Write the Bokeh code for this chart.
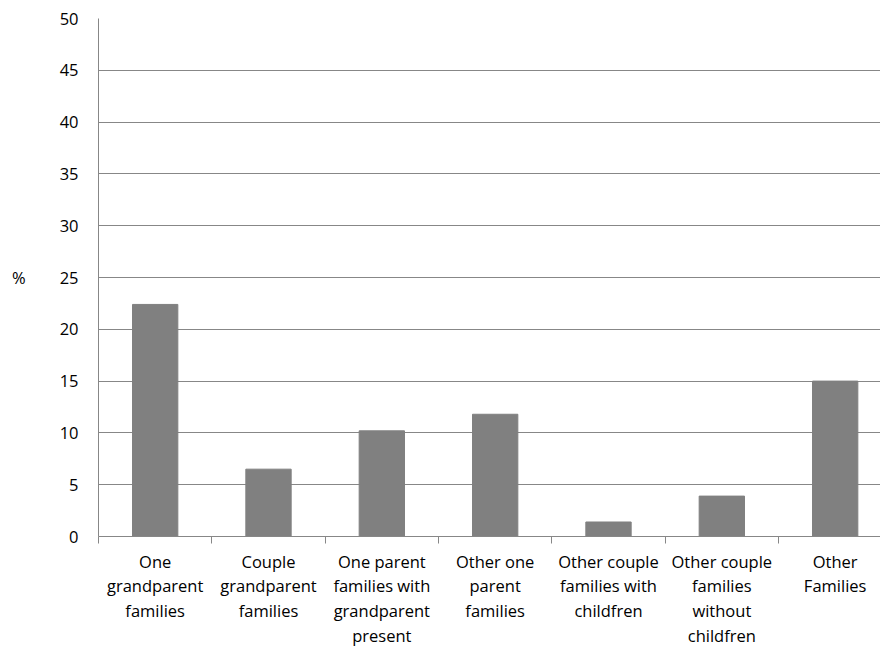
from bokeh.plotting import figure
from bokeh.models import Range1d, FixedTicker
from bokeh.embed import file_html
from bokeh.resources import INLINE

categories = [
    "One\ngrandparent\nfamilies",
    "Couple\ngrandparent\nfamilies",
    "One parent\nfamilies with\ngrandparent\npresent",
    "Other one\nparent\nfamilies",
    "Other couple\nfamilies with\nchildfren",
    "Other couple\nfamilies\nwithout\nchildfren",
    "Other\nFamilies",
]
values = [22.4, 6.5, 10.2, 11.8, 1.4, 3.9, 15.0]
y_ticks = [0, 5, 10, 15, 20, 25, 30, 35, 40, 45, 50]

FONT = "Open Sans"
FS = "16.5px"
GRAY = "#878787"

xs = [i + 0.5 for i in range(len(categories))]

p = figure(width=880, height=650, output_backend="svg", toolbar_location=None,
           x_range=Range1d(0, 6.9), y_range=Range1d(0, 50))
p.min_border_left = 98
p.min_border_right = 0
p.min_border_top = 18
p.min_border_bottom = 113
p.outline_line_color = None
p.background_fill_color = "white"
p.border_fill_color = "white"

p.vbar(x=xs, top=values, width=0.4, fill_color="#808080", line_color="#808080")

# x axis
xa = p.xaxis[0]
xa.ticker = FixedTicker(ticks=xs, minor_ticks=list(range(len(categories))))
xa.major_label_overrides = {x: c for x, c in zip(xs, categories)}
xa.major_tick_out = 0
xa.major_tick_in = 0
xa.minor_tick_out = 7
xa.minor_tick_in = 0
xa.minor_tick_line_color = GRAY
xa.axis_line_color = GRAY
xa.major_label_standoff = 6
xa.major_label_text_font = FONT
xa.major_label_text_font_size = FS
xa.major_label_text_color = "black"
xa.major_label_text_line_height = 1.08
xa.major_label_orientation = "horizontal"

# y axis
ya = p.yaxis[0]
ya.ticker = FixedTicker(ticks=y_ticks)
ya.major_tick_out = 0
ya.major_tick_in = 0
ya.minor_tick_out = 0
ya.minor_tick_in = 0
ya.axis_line_color = GRAY
ya.major_label_standoff = 20
ya.major_label_text_font = FONT
ya.major_label_text_font_size = FS
ya.major_label_text_color = "black"
ya.axis_label = "%"
ya.axis_label_orientation = "horizontal"
ya.axis_label_standoff = 31
ya.axis_label_text_font = FONT
ya.axis_label_text_font_size = FS
ya.axis_label_text_font_style = "normal"
ya.axis_label_text_color = "black"

p.xgrid.grid_line_color = None
p.ygrid.grid_line_color = GRAY
p.ygrid.grid_line_width = 1

open("out.html", "w").write(file_html(p, INLINE))
